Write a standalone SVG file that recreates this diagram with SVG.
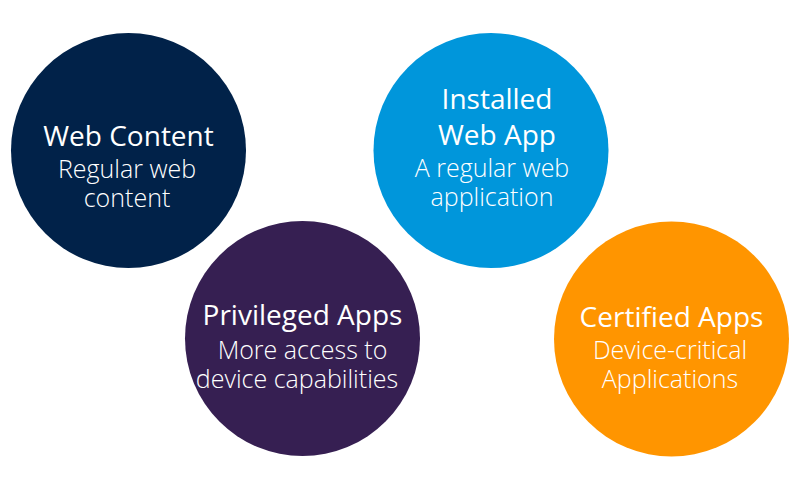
<svg xmlns="http://www.w3.org/2000/svg" width="800" height="500" viewBox="0 0 800 500">
<style>
.t{font-family:"Open Sans","Noto Sans","Liberation Sans",sans-serif;font-size:28px;fill:#fff;text-anchor:middle;font-weight:500}
.s{font-family:"Open Sans","Noto Sans","Liberation Sans",sans-serif;font-size:25px;fill:#fff;text-anchor:middle;font-weight:300}
</style>
<rect width="800" height="500" fill="#fff"/>
<g id="web-content">
<circle cx="128.5" cy="150.5" r="117.5" fill="#012249"/>
<text class="t" x="128.5" y="146">Web Content</text>
<text class="s" x="127" y="178">Regular web</text>
<text class="s" x="127" y="207">content</text>
</g>
<g id="installed-web-app">
<circle cx="491" cy="150.5" r="117.5" fill="#0096db"/>
<text class="t" x="497" y="109">Installed</text>
<text class="t" x="497" y="145">Web App</text>
<text class="s" x="492" y="177">A regular web</text>
<text class="s" x="492" y="206">application</text>
</g>
<g id="privileged-apps">
<circle cx="302.5" cy="338.5" r="117.5" fill="#361f52"/>
<text class="t" x="302.5" y="325">Privileged Apps</text>
<text class="s" x="302.5" y="359">More access to</text>
<text class="s" x="297" y="388">device capabilities</text>
</g>
<g id="certified-apps">
<circle cx="671.5" cy="339" r="117.5" fill="#ff9500"/>
<text class="t" x="671.5" y="327">Certified Apps</text>
<text class="s" x="670" y="359">Device-critical</text>
<text class="s" x="670" y="388">Applications</text>
</g>
<g id="connectors"/>
</svg>
